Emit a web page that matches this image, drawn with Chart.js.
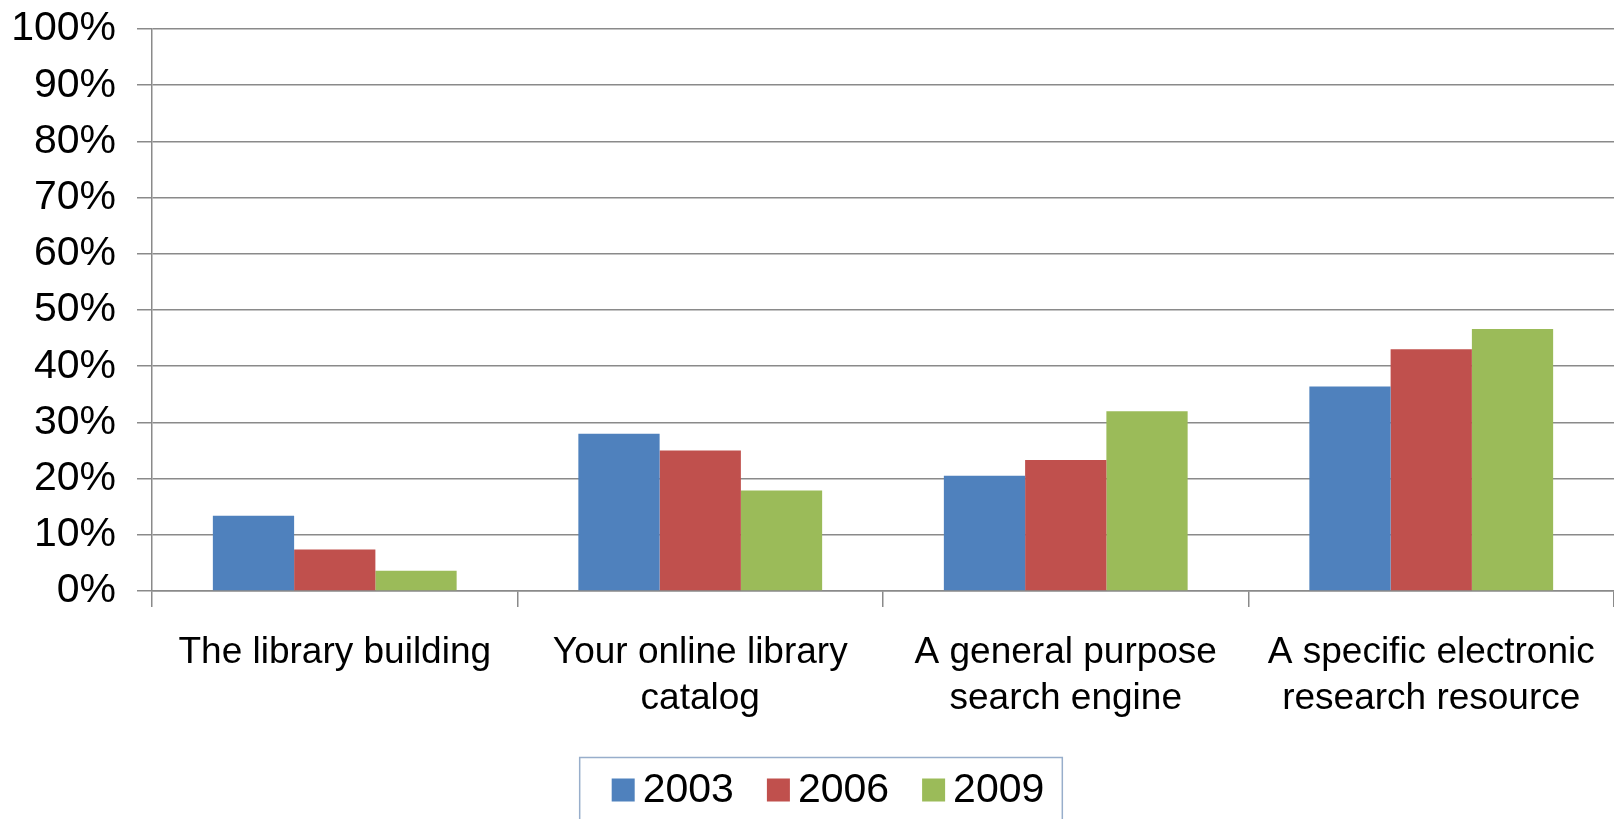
<!DOCTYPE html>
<html>
<head>
<meta charset="utf-8">
<script src="https://cdn.jsdelivr.net/npm/chart.js@4"></script>
<style>
  body { margin: 0; background: #fff; }
  #wrap { width: 1614px; height: 819px; }
</style>
</head>
<body>
<div id="wrap"><canvas id="libraryChart" width="1614" height="819"></canvas></div>
<script>
// data
const categories = [
  ['The library building'],
  ['Your online library', 'catalog'],
  ['A general purpose', 'search engine'],
  ['A specific electronic', 'research resource']
];
const years = ['2003', '2006', '2009'];
const values2003 = [13.4, 28.0, 20.5, 36.4];
const values2006 = [7.4, 25.0, 23.3, 43.0];
const values2009 = [3.6, 17.9, 32.0, 46.6];
const yTicks = [0, 10, 20, 30, 40, 50, 60, 70, 80, 90, 100];

const colors = ['#4f81bd', '#c0504d', '#9bbb59'];
const font = 'Liberation Sans, Arial, sans-serif';

// legend with a box round it, drawn from the datasets
const boxedLegend = {
  id: 'boxedLegend',
  afterDraw(chart) {
    const ctx = chart.ctx;
    const sets = chart.data.datasets;
    const sq = 23, gapText = 8, gapItem = 33;
    ctx.save();
    ctx.font = '41px ' + font;
    let total = 0;
    const widths = sets.map(ds => ctx.measureText(ds.label).width);
    widths.forEach((w, i) => { total += sq + gapText + w + (i ? gapItem : 0); });
    const cx = 828;
    let x = cx - total / 2;
    const midY = 791;
    // frame
    ctx.strokeStyle = '#98aecb';
    ctx.lineWidth = 1.5;
    ctx.strokeRect(x - 32, 757.5, total + 50, 80);
    ctx.textBaseline = 'middle';
    sets.forEach((ds, i) => {
      ctx.fillStyle = ds.backgroundColor;
      ctx.fillRect(x, midY - sq / 2 - 1, sq, sq);
      ctx.fillStyle = '#000';
      ctx.fillText(ds.label, x + sq + gapText, midY);
      x += sq + gapText + widths[i] + gapItem;
    });
    ctx.restore();
  }
};

new Chart(document.getElementById('libraryChart'), {
  type: 'bar',
  data: {
    labels: categories,
    datasets: [
      { label: years[0], data: values2003, backgroundColor: colors[0] },
      { label: years[1], data: values2006, backgroundColor: colors[1] },
      { label: years[2], data: values2009, backgroundColor: colors[2] }
    ]
  },
  options: {
    responsive: false,
    animation: false,
    events: [],
    layout: { padding: { top: 29, right: 0, left: 0, bottom: 0 } },
    datasets: {
      bar: { barPercentage: 1, categoryPercentage: 0.667 }
    },
    plugins: {
      legend: { display: false },
      tooltip: { enabled: false }
    },
    scales: {
      x: {
        grid: {
          offset: true,
          drawOnChartArea: false,
          drawTicks: true,
          tickLength: 16,
          color: '#8a8a8a',
          lineWidth: 1.5
        },
        border: { display: true, color: '#8a8a8a', width: 1.5 },
        ticks: {
          color: '#000',
          padding: 22,
          maxRotation: 0,
          font: { family: font, size: 37, lineHeight: 1.26 }
        },
        afterFit(scale) {
          scale.height = 228;
          scale.paddingLeft = 0;
          scale.paddingRight = 0;
        }
      },
      y: {
        min: 0,
        max: 100,
        afterBuildTicks(scale) { scale.ticks = yTicks.map(v => ({ value: v })); },
        grid: { color: '#8a8a8a', lineWidth: 1.5, tickLength: 15 },
        border: { display: true, color: '#8a8a8a', width: 1.5 },
        ticks: {
          color: '#000',
          padding: 21,
          font: { family: font, size: 41 },
          callback: v => v + '%'
        },
        afterFit(scale) {
          scale.width = 152;
          scale.paddingTop = 0;
          scale.paddingBottom = 0;
        }
      }
    }
  },
  plugins: [boxedLegend]
});
</script>
</body>
</html>
